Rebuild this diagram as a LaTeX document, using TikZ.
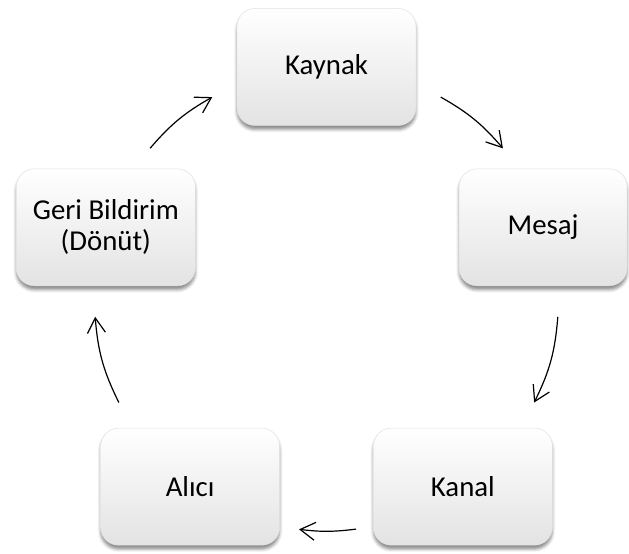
\documentclass[tikz,border=0pt]{standalone}
\usepackage{fontspec}
\setmainfont{Carlito}
\usetikzlibrary{arrows.meta,shadows.blur}
\tikzset{
  stage/.style={rectangle, rounded corners=18pt, minimum width=179pt, minimum height=117pt,
    draw=black!12, line width=0.5pt, top color=white, middle color=white, bottom color=black!11,
    blur shadow={shadow xshift=0pt, shadow yshift=-4pt, shadow blur radius=3pt, shadow opacity=45},
    align=center, font=\fontsize{28.8}{31}\selectfont, inner sep=0pt},
  cycarrow/.style={line width=1.2pt, -{Straight Barb[length=15pt, width=18pt, line width=1.2pt]}}
}
\begin{document}
\begin{tikzpicture}[x=1pt, y=1pt]
		\useasboundingbox (-326.5,-255) rectangle (302.5,299);
		% Define nodes
		\node[stage] (kaynak) at (90:232) {Kaynak};
		\node[stage, minimum width=168pt, xshift=-4pt] (mesaj) at (18:232) {Mesaj};
		\node[stage] (kanal) at (-54:232) {Kanal};
		\node[stage] (alici) at (-126:232) {Alıcı};
		\node[stage] (geri) at (162:232) {Geri Bildirim\\(Dönüt)};
		
		% Arrow ends on the cycle
		\coordinate (kaynak-out) at (60.5:232);
		\coordinate (mesaj-in) at (40.5:232);
		\coordinate (mesaj-out) at (-4.4:232);
		\coordinate (kanal-in) at (-26.5:232);
		\coordinate (kanal-out) at (-82.7:232);
		\coordinate (alici-in) at (-96.8:232);
		\coordinate (alici-out) at (206.5:232);
		\coordinate (geri-in) at (184.4:232);
		\coordinate (geri-out) at (139.5:232);
		\coordinate (kaynak-in) at (119.5:232);
		
		% Connect the nodes
		\draw[cycarrow] (kaynak-out) to[bend left=10] (mesaj-in);
		\draw[cycarrow] (mesaj-out) to[bend left=11] (kanal-in);
		\draw[cycarrow] (kanal-out) to[bend left=7] (alici-in);
		\draw[cycarrow] (alici-out) to[bend left=11] (geri-in);
		\draw[cycarrow] (geri-out) to[bend left=10] (kaynak-in);
	\end{tikzpicture}
\end{document}
